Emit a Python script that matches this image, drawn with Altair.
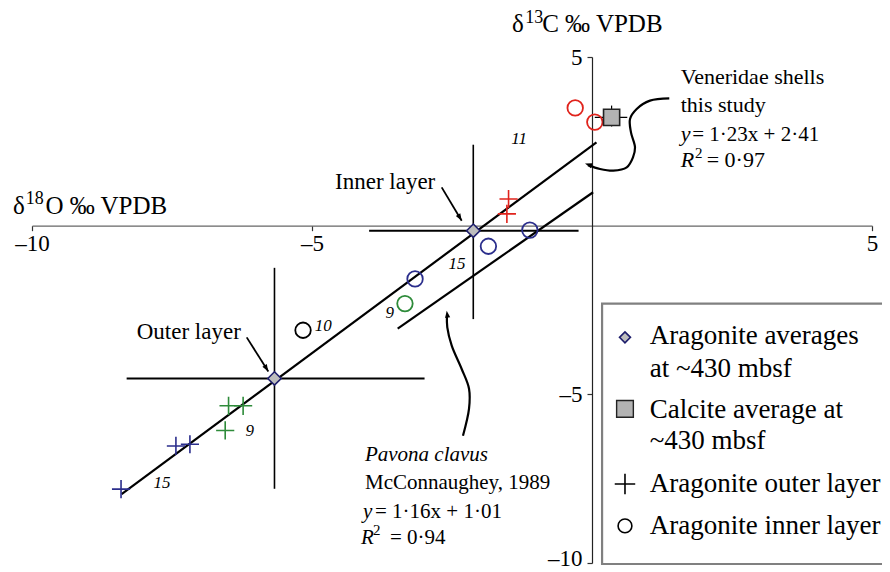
import altair as alt
import pandas as pd

SERIF = "Liberation Serif"

# ---------------- data ----------------
# Aragonite outer layer samples (crosses)
outer_x = [-8.41, -7.43, -7.18, -6.49, -6.23, -6.55, -1.49, -1.52]
outer_y = [-7.81, -6.53, -6.48, -5.34, -5.34, -6.07, 0.79, 0.35]
outer_grp = ["blue", "blue", "blue", "green", "green", "green", "red", "red"]

# Aragonite inner layer samples (circles)
inner_x = [-0.30, 0.05, -3.16, -1.85, -1.11, -3.34, -5.16]
inner_y = [3.49, 3.07, -1.58, -0.61, -0.13, -2.31, -3.10]
inner_grp = ["red", "red", "blue", "blue", "blue", "green", "black"]

# Aragonite averages at ~430 mbsf (diamonds with ranges)
avg_name = ["Outer layer", "Inner layer"]
avg_x = [-5.67, -2.12]
avg_y = [-4.53, -0.15]
avg_xmin = [-8.31, -3.98]
avg_xmax = [-2.99, -0.24]
avg_ymin = [-7.80, -2.77]
avg_ymax = [-1.25, 2.40]

# Calcite average at ~430 mbsf
calc_x = [0.35]
calc_y = [3.21]
calc_xmin = [0.05]
calc_xmax = [0.63]
calc_ymin = [2.94]
calc_ymax = [3.56]

# Regression lines (end points)
fit_name = ["Veneridae", "Pavona clavus"]
fit_x0 = [-8.40, -3.47]
fit_y0 = [-7.96, -3.05]
fit_x1 = [0.08, 0.02]
fit_y1 = [2.47, 0.99]

# Sample numbers written next to points
num_text = ["11", "15", "9", "10", "9", "15"]
num_x = [-1.30, -2.41, -3.61, -4.80, -6.11, -7.68]
num_y = [2.58, -1.14, -2.59, -2.97, -6.08, -7.62]

group_names = ["red", "blue", "green", "black"]
group_colors = ["#e0231c", "#2b2e8c", "#2e8b3a", "#000000"]

# ---------------- annotation positions (data units) ----------------
ven_arrow_x = [1.380, 1.036, 0.798, 0.679, 0.696, 0.768, 0.732, 0.620, 0.380, 0.143, -0.071]
ven_arrow_y = [3.774, 3.706, 3.460, 3.163, 2.766, 2.321, 2.025, 1.728, 1.631, 1.681, 1.794]
pav_arrow_x = [-2.304, -2.196, -2.196, -2.327, -2.505, -2.584, -2.591]
pav_arrow_y = [-6.226, -5.426, -4.833, -4.249, -3.558, -3.015, -2.668]

str_arrow_x0 = [-2.684, -6.166]
str_arrow_y0 = [1.135, -3.312]
str_arrow_x1 = [-2.327, -5.780]
str_arrow_y1 = [0.148, -4.320]

head_x = [-0.125, -2.595, -2.327, -5.780]
head_y = [1.840, -2.520, 0.148, -4.320]
head_angle = [288, 352, 149, 148]

# regular text pieces (left aligned, alphabetic baseline)
reg_t = ["Veneridae shells", "this study", "= 1·23x + 2·41", "2", "= 0·97",
         "McConnaughey, 1989", "= 1·16x + 1·01", "2", "= 0·94",
         "Inner layer", "Outer layer",
         "δ", "18", "O ‰ VPDB",
         "δ", "13", "C ‰ VPDB",
         "Aragonite averages", "at ~430 mbsf", "Calcite average at", "~430 mbsf",
         "Aragonite outer layer", "Aragonite inner layer"]
reg_x = [1.584, 1.584, 1.790, 1.839, 2.048,
         -4.054, -3.875, -3.911, -3.607,
         -4.589, -8.130,
         -10.34, -10.11, -9.76,
         -1.43, -1.19, -0.89,
         1.03, 1.03, 1.03, 1.03, 1.03, 1.03]
reg_y = [4.205, 3.362, 2.522, 1.997, 1.730,
         -7.813, -8.656, -9.169, -9.436,
         1.089, -3.362,
         0.356, 0.64, 0.356,
         5.74, 6.00, 5.74,
         -3.51, -4.50, -5.69, -6.63, -7.91, -9.15]
reg_s = [22, 22, 21, 15, 22,
         21, 21, 15, 21,
         23, 23,
         25, 18, 25,
         25, 18, 25,
         27, 27, 27, 27, 27, 27]

# italic text pieces (left aligned)
ital_t = ["y", "R", "Pavona clavus", "y", "R"]
ital_x = [1.584, 1.584, -4.054, -4.090, -4.125]
ital_y = [2.522, 1.730, -6.973, -8.656, -9.436]
ital_s = [22, 22, 21, 21, 21]

# legend
leg_box_x = [0.18]
leg_box_x2 = [5.8]
leg_box_y = [-2.31]
leg_box_y2 = [-10.03]
leg_sym_x = 0.589
leg_sym_y = [-3.31, -5.43, -7.66, -8.90]

# ---------------- chart ----------------
xs = alt.Scale(domain=[-10, 5], nice=False, zero=False)
ys = alt.Scale(domain=[-10, 5], nice=False, zero=False)
lab_expr = "datum.value < 0 ? '\u2013' + abs(datum.value) : '' + datum.value"
xaxis = alt.Axis(values=[-10, -5, 5], title=None, orient="bottom", offset=-337.33,
                 grid=False, domainColor="#666666", domainWidth=1.3, tickColor="#333333",
                 tickSize=5, tickWidth=1.2, labelFont=SERIF, labelFontSize=23, labelColor="black",
                 labelPadding=2, labelFlush=False, labelOverlap=False, labelExpr=lab_expr)
yaxis = alt.Axis(values=[5, -5, -10], title=None, orient="left", offset=-560,
                 grid=False, domainColor="#222222", domainWidth=1.2, tickColor="#333333",
                 tickSize=5, tickWidth=1.2, labelFont=SERIF, labelFontSize=23, labelColor="black",
                 labelPadding=5, labelFlush=False, labelOverlap=False, labelExpr=lab_expr,
                 labelOffset={"condition": {"test": "datum.value === -10", "value": -5}, "value": 0})


def X(f):
    return alt.X(f, type="quantitative", scale=xs, axis=xaxis)


def Y(f):
    return alt.Y(f, type="quantitative", scale=ys, axis=yaxis)


color_scale = alt.Scale(domain=group_names, range=group_colors)
CROSS = "M-1,0H1M0,-1V1"
HEAD = "M0,0L0.42,1.15L-0.42,1.15Z"

df_outer = pd.DataFrame({"x": outer_x, "y": outer_y, "g": outer_grp})
df_inner = pd.DataFrame({"x": inner_x, "y": inner_y, "g": inner_grp})
df_avg = pd.DataFrame({"name": avg_name, "x": avg_x, "y": avg_y, "xmin": avg_xmin,
                       "xmax": avg_xmax, "ymin": avg_ymin, "ymax": avg_ymax})
df_calc = pd.DataFrame({"x": calc_x, "y": calc_y, "xmin": calc_xmin, "xmax": calc_xmax,
                        "ymin": calc_ymin, "ymax": calc_ymax})
df_fit = pd.DataFrame({"name": fit_name, "x0": fit_x0, "y0": fit_y0, "x1": fit_x1, "y1": fit_y1})
df_num = pd.DataFrame({"t": num_text, "x": num_x, "y": num_y})
df_curve = pd.DataFrame({
    "x": ven_arrow_x + pav_arrow_x,
    "y": ven_arrow_y + pav_arrow_y,
    "k": ["v"] * len(ven_arrow_x) + ["p"] * len(pav_arrow_x),
    "i": list(range(len(ven_arrow_x))) + list(range(len(pav_arrow_x))),
})
df_str = pd.DataFrame({"x0": str_arrow_x0, "y0": str_arrow_y0, "x1": str_arrow_x1, "y1": str_arrow_y1})
df_head = pd.DataFrame({"x": head_x, "y": head_y, "a": head_angle})
df_reg = pd.DataFrame({"t": reg_t, "x": reg_x, "y": reg_y, "s": reg_s})
df_ital = pd.DataFrame({"t": ital_t, "x": ital_x, "y": ital_y, "s": ital_s})
df_box = pd.DataFrame({"x": leg_box_x, "x2": leg_box_x2, "y": leg_box_y, "y2": leg_box_y2})
df_leg = pd.DataFrame({"x": [leg_sym_x] * 4, "y": leg_sym_y})

box = alt.Chart(df_box).mark_rect(fill="white", stroke="#808080", strokeWidth=2.2).encode(
    x=X("x"), x2="x2", y=Y("y"), y2="y2")

fit = alt.Chart(df_fit).mark_rule(color="black", strokeWidth=2.2).encode(
    x=X("x0"), y=Y("y0"), x2="x1", y2="y1")

avg_h = alt.Chart(df_avg).mark_rule(color="black", strokeWidth=2).encode(
    x=X("xmin"), x2="xmax", y=Y("y"))
avg_v = alt.Chart(df_avg).mark_rule(color="black", strokeWidth=1.6).encode(
    x=X("x"), y=Y("ymin"), y2="ymax")

calc_h = alt.Chart(df_calc).mark_rule(color="black", strokeWidth=1.2).encode(
    x=X("xmin"), x2="xmax", y=Y("y"))
calc_v = alt.Chart(df_calc).mark_rule(color="black", strokeWidth=1.2).encode(
    x=X("x"), y=Y("ymin"), y2="ymax")

curves = alt.Chart(df_curve).mark_line(color="black", strokeWidth=2.2, interpolate="catmull-rom").encode(
    x=X("x"), y=Y("y"), detail="k:N", order="i:Q")
straight = alt.Chart(df_str).mark_rule(color="black", strokeWidth=1.8).encode(
    x=X("x0"), y=Y("y0"), x2="x1", y2="y1")
heads = alt.Chart(df_head).mark_point(shape=HEAD, filled=True, color="black", size=150, opacity=1).encode(
    x=X("x"), y=Y("y"), angle=alt.Angle("a:Q", scale=None))

outer_pts = alt.Chart(df_outer).mark_point(shape=CROSS, filled=False, size=330, strokeWidth=1.6, opacity=1).encode(
    x=X("x"), y=Y("y"), stroke=alt.Stroke("g:N", scale=color_scale, legend=None))
inner_pts = alt.Chart(df_inner).mark_point(shape="circle", filled=False, size=240, strokeWidth=1.8, opacity=1).encode(
    x=X("x"), y=Y("y"), stroke=alt.Stroke("g:N", scale=color_scale, legend=None))

avg_pts = alt.Chart(df_avg).mark_point(shape="diamond", filled=True, fill="#bdbdbd", stroke="#1d1d6b",
                                       strokeWidth=1.6, size=180, opacity=1).encode(x=X("x"), y=Y("y"))
calc_pts = alt.Chart(df_calc).mark_point(shape="square", filled=True, fill="#b3b3b3", stroke="#222222",
                                         strokeWidth=1.6, size=260, opacity=1).encode(x=X("x"), y=Y("y"))

nums = alt.Chart(df_num).mark_text(font=SERIF, fontStyle="italic", fontSize=17, align="center",
                                   baseline="middle", color="black").encode(x=X("x"), y=Y("y"), text="t:N")

reg_text = alt.Chart(df_reg).mark_text(font=SERIF, align="left", baseline="alphabetic", color="black").encode(
    x=X("x"), y=Y("y"), text="t:N", size=alt.Size("s:Q", scale=None, legend=None))
ital_text = alt.Chart(df_ital).mark_text(font=SERIF, fontStyle="italic", align="left", baseline="alphabetic",
                                         color="black").encode(
    x=X("x"), y=Y("y"), text="t:N", size=alt.Size("s:Q", scale=None, legend=None))

df_leg1 = df_leg.iloc[[0]]
df_leg2 = df_leg.iloc[[1]]
df_leg3 = df_leg.iloc[[2]]
df_leg4 = df_leg.iloc[[3]]
leg_d = alt.Chart(df_leg1).mark_point(shape="diamond", filled=True, fill="#bdbdbd", stroke="#1d1d6b",
                                      strokeWidth=1.6, size=120, opacity=1).encode(x=X("x"), y=Y("y"))
leg_s = alt.Chart(df_leg2).mark_point(shape="square", filled=True, fill="#b3b3b3", stroke="#222222",
                                      strokeWidth=1.4, size=280, opacity=1).encode(x=X("x"), y=Y("y"))
leg_c = alt.Chart(df_leg3).mark_point(shape=CROSS, filled=False, stroke="black", size=420,
                                      strokeWidth=1.6, opacity=1).encode(x=X("x"), y=Y("y"))
leg_o = alt.Chart(df_leg4).mark_point(shape="circle", filled=False, stroke="black", size=190,
                                      strokeWidth=1.6, opacity=1).encode(x=X("x"), y=Y("y"))

chart = alt.layer(
    box, fit, avg_h, avg_v, calc_h, calc_v, curves, straight, heads,
    outer_pts, inner_pts, avg_pts, calc_pts, nums, reg_text, ital_text,
    leg_d, leg_s, leg_c, leg_o,
).properties(
    width=840, height=506,
    autosize=alt.AutoSizeParams(type="none"),
    padding={"left": 24, "top": 49, "right": 10, "bottom": 12},
    background="white",
).configure_view(stroke=None)

chart.save("out.html", embed_options={"renderer": "svg", "actions": False})
